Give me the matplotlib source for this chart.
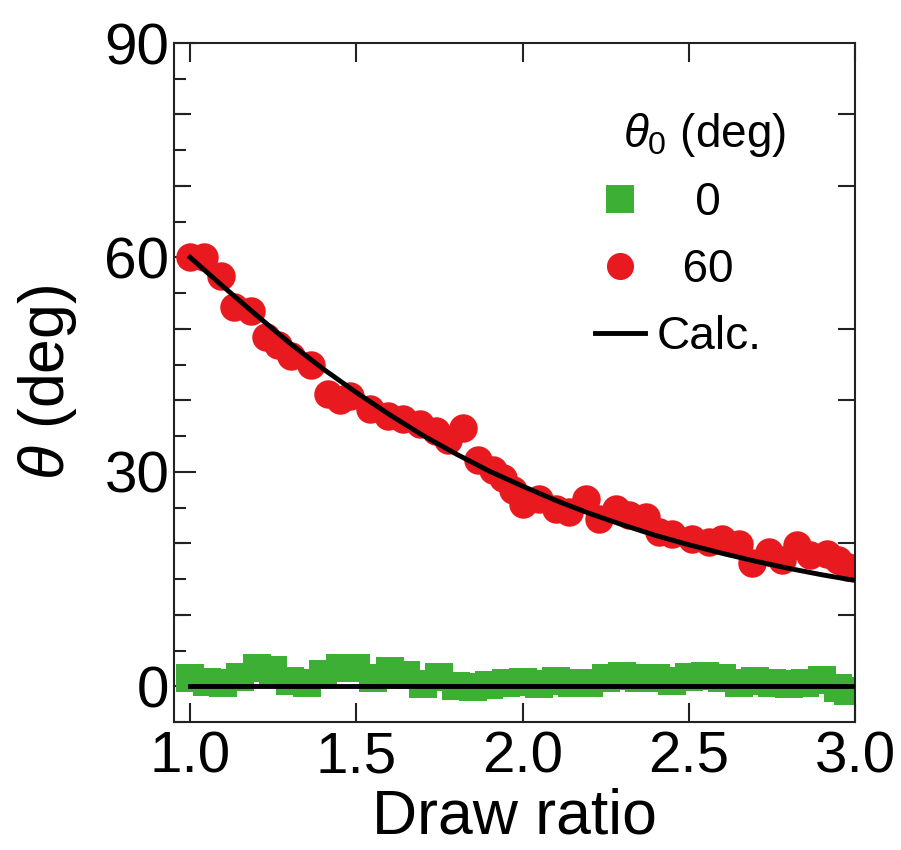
import matplotlib
matplotlib.use("Agg")
import matplotlib.pyplot as plt
from matplotlib.ticker import MultipleLocator, NullFormatter, FormatStrFormatter
from matplotlib.lines import Line2D

plt.rcParams['font.family'] = ['Liberation Sans', 'DejaVu Sans']
plt.rcParams['mathtext.fontset'] = 'custom'
plt.rcParams['mathtext.rm'] = 'Liberation Sans'
plt.rcParams['mathtext.it'] = 'Liberation Sans:italic'

GREEN = '#3daf35'
RED = '#e81a1f'

# theta0 = 0 deg measurements
ratio_0 = [1.00, 1.05, 1.10, 1.15, 1.20, 1.25, 1.30, 1.35, 1.40, 1.45,
           1.50, 1.55, 1.60, 1.65, 1.70, 1.75, 1.80, 1.85, 1.90, 1.95,
           2.00, 2.05, 2.10, 2.15, 2.20, 2.25, 2.30, 2.35, 2.40, 2.45,
           2.50, 2.55, 2.60, 2.65, 2.70, 2.75, 2.80, 2.85, 2.90, 2.95, 2.98]
theta_0 = [1.1, 0.6, 0.5, 1.3, 2.5, 2.3, 0.7, 0.5, 1.7, 2.6,
           2.5, 1.2, 2.2, 1.6, 0.3, 1.3, 0.0, -0.1, 0.2, 0.4,
           0.6, 0.3, 0.8, 0.5, 0.4, 1.2, 1.4, 1.1, 1.2, 0.8,
           1.3, 1.4, 1.2, 0.5, 0.7, 0.5, 0.3, 0.4, 0.9, -0.3, -0.7]

# theta0 = 60 deg measurements
ratio_60 = [1.00, 1.043, 1.093, 1.133, 1.183, 1.229, 1.263, 1.304, 1.364, 1.414,
            1.45, 1.48, 1.54, 1.595, 1.64, 1.69, 1.74, 1.776, 1.821, 1.866,
            1.911, 1.94, 1.97, 2.00, 2.05, 2.10, 2.14, 2.19, 2.23, 2.28,
            2.32, 2.37, 2.41, 2.45, 2.51, 2.56, 2.60, 2.65, 2.69, 2.74,
            2.78, 2.825, 2.865, 2.915, 2.95, 2.98]
theta_60 = [60.0, 60.0, 57.4, 53.0, 52.5, 48.8, 47.8, 46.2, 45.0, 40.9,
            40.0, 40.6, 38.8, 37.8, 37.4, 36.7, 35.7, 34.4, 36.2, 31.6,
            30.2, 29.2, 27.5, 25.5, 26.2, 24.8, 24.4, 26.2, 23.4, 24.8,
            23.9, 23.7, 21.6, 21.3, 20.6, 20.2, 20.6, 19.9, 17.2, 18.8,
            17.6, 19.7, 18.3, 18.5, 17.6, 16.7]

# calculated curves
calc_ratio = [1.0, 1.1, 1.2, 1.3, 1.4, 1.5, 1.6, 1.7, 1.8, 1.9, 2.0,
              2.1, 2.2, 2.3, 2.4, 2.5, 2.6, 2.7, 2.8, 2.9, 3.0]
calc_60 = [60.0, 55.9, 51.9, 48.0, 44.4, 41.1, 38.0, 35.1, 32.5, 30.1, 28.0,
           26.0, 24.2, 22.6, 21.1, 19.8, 18.6, 17.5, 16.5, 15.6, 14.8]
calc_0_ratio = [1.0, 3.0]
calc_0 = [0.0, 0.0]

fig = plt.figure(figsize=(9.01, 8.5), dpi=100)
ax = fig.add_axes([0.1926, 0.1506, 0.7564, 0.7988])

ax.plot(ratio_0, theta_0, 's', color=GREEN, markersize=20, markeredgewidth=0, zorder=2)
ax.plot(ratio_60, theta_60, 'o', color=RED, markersize=20.5, markeredgewidth=0, zorder=2)
ax.plot(calc_ratio, calc_60, '-', color='black', linewidth=3.5, zorder=3)
ax.plot(calc_0_ratio, calc_0, '-', color='black', linewidth=3.5, zorder=3)

ax.set_xlim(0.95, 3.0)
ax.set_ylim(-5, 90)
ax.xaxis.set_major_locator(MultipleLocator(0.5))
ax.xaxis.set_major_formatter(FormatStrFormatter('%.1f'))
ax.yaxis.set_major_locator(MultipleLocator(30))
ax.yaxis.set_minor_locator(MultipleLocator(5))
ax.tick_params(axis='both', which='both', direction='in', top=True, right=True,
               width=1.5, color='#222222', labelsize=42)
ax.tick_params(axis='x', which='major', length=14, pad=6)
ax.tick_params(axis='y', which='major', length=15.5, pad=3)
ax.tick_params(axis='y', which='minor', length=8.5)
for s in ax.spines.values():
    s.set_linewidth(1.5)
    s.set_color('#222222')

# medium ticks every 10 deg
ax2 = ax.twinx()
ax2.set_ylim(ax.get_ylim())
ax2.set_yticks([10, 20, 40, 50, 70, 80])
ax2.yaxis.set_major_formatter(NullFormatter())
ax2.tick_params(axis='y', direction='in', left=True, right=True, length=12,
                width=1.5, color='#222222')
for s in ax2.spines.values():
    s.set_visible(False)

ax.set_xlabel('Draw ratio', fontsize=45, labelpad=2)
ax.set_ylabel(r'$\theta$ (deg)', fontsize=45, labelpad=18)

handles = [Line2D([], [], marker='s', linestyle='none', color=GREEN, markersize=19.5, markeredgewidth=0),
           Line2D([], [], marker='o', linestyle='none', color=RED, markersize=19.5, markeredgewidth=0),
           Line2D([], [], color='black', linewidth=3.5)]
ax.legend(handles, ['   0', '  60', 'Calc.'], loc='upper left', bbox_to_anchor=(0.6185, 0.797),
          frameon=False, fontsize=33, borderpad=0, borderaxespad=0, handlelength=1.09,
          handletextpad=0.26, labelspacing=0.5)
ax.text(0.6596, 0.8645, r'$\theta_0$ (deg)', transform=ax.transAxes, fontsize=33,
        ha='left', va='center')

fig.savefig('out.png', dpi=100)
